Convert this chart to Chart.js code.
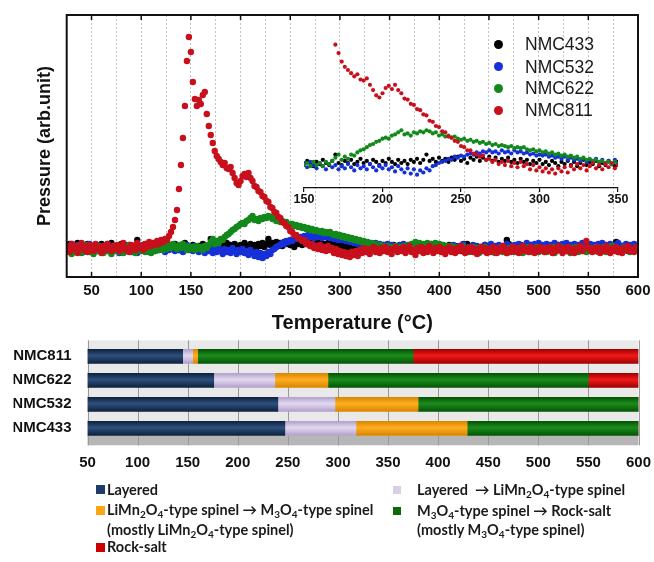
<!DOCTYPE html>
<html>
<head>
<meta charset="utf-8">
<script src="https://cdn.jsdelivr.net/npm/chart.js@4.4.0/dist/chart.umd.min.js"></script>
<style>
body { margin: 0; background: #fff; }
#page { position: relative; width: 654px; height: 562px; overflow: hidden; font-family: 'Liberation Sans', Arial, sans-serif; }
#page canvas { position: absolute; }
#insetBox { position: absolute; left: 290px; top: 30px; width: 343px; height: 186px; overflow: hidden; }
.key { position: absolute; left: 525px; font-size: 17.5px; color: #1a1a1a; line-height: 22px; white-space: nowrap; }
.key i { position: absolute; left: -31px; top: 6.5px; width: 9px; height: 9px; border-radius: 50%; }
.ph { position: absolute; font-family: Lato, sans-serif; font-weight: 700; font-size: 14.5px; color: #1a1a1a; line-height: 19px; white-space: nowrap; }
.ph sub { font-size: 10px; line-height: 0; vertical-align: -3px; }
.sq { position: absolute; }
</style>
</head>
<body>
<div id="page">
  <canvas id="main" width="654" height="340" style="left:0;top:0"></canvas>
  <div id="insetBox"><canvas id="inset" width="360" height="186" style="left:0;top:0"></canvas></div>
  <div id="keys"></div>
  <canvas id="phases" width="654" height="150" style="left:0;top:330px"></canvas>

  <div class="sq" style="left:96px;top:485px;width:9px;height:9px;background:#1f3d66"></div>
  <div class="ph" style="left:107px;top:480px">Layered</div>
  <div class="sq" style="left:96px;top:506px;width:9px;height:9px;background:#ffa514"></div>
  <div class="ph" style="left:107px;top:500px">LiMn<sub>2</sub>O<sub>4</sub>-type spinel &#8594; M<sub>3</sub>O<sub>4</sub>-type spinel</div>
  <div class="ph" style="left:107px;top:520px">(mostly LiMn<sub>2</sub>O<sub>4</sub>-type spinel)</div>
  <div class="sq" style="left:96px;top:543px;width:9px;height:9px;background:#cc0000"></div>
  <div class="ph" style="left:107px;top:537px">Rock-salt</div>

  <div class="sq" style="left:393px;top:486px;width:8px;height:8px;background:#d8cfe6"></div>
  <div class="ph" style="left:417px;top:480px">Layered &nbsp;&#8594; LiMn<sub>2</sub>O<sub>4</sub>-type spinel</div>
  <div class="sq" style="left:393px;top:507px;width:8px;height:8px;background:#0a6a0a"></div>
  <div class="ph" style="left:417px;top:501px">M<sub>3</sub>O<sub>4</sub>-type spinel &#8594; Rock-salt</div>
  <div class="ph" style="left:417px;top:520px">(mostly M<sub>3</sub>O<sub>4</sub>-type spinel)</div>
</div>

<script>
// 温度（℃）
const temps = [
  26,28,30,32,34,36,38,40,42,44,46,48,50,52,54,56,58,60,62,64,66,68,70,72,
  74,76,78,80,82,84,86,88,90,92,94,96,98,100,102,104,106,108,110,112,114,116,118,120,
  122,124,126,128,130,132,134,136,138,140,142,144,146,148,150,152,154,156,158,160,162,164,166,168,
  170,172,174,176,178,180,182,184,186,188,190,192,194,196,198,200,202,204,206,208,210,212,214,216,
  218,220,222,224,226,228,230,232,234,236,238,240,242,244,246,248,250,252,254,256,258,260,262,264,
  266,268,270,272,274,276,278,280,282,284,286,288,290,292,294,296,298,300,302,304,306,308,310,312,
  314,316,318,320,322,324,326,328,330,332,334,336,338,340,342,344,346,348,350,352,354,356,358,360,
  362,364,366,368,370,372,374,376,378,380,382,384,386,388,390,392,394,396,398,400,402,404,406,408,
  410,412,414,416,418,420,422,424,426,428,430,432,434,436,438,440,442,444,446,448,450,452,454,456,
  458,460,462,464,466,468,470,472,474,476,478,480,482,484,486,488,490,492,494,496,498,500,502,504,
  506,508,510,512,514,516,518,520,522,524,526,528,530,532,534,536,538,540,542,544,546,548,550,552,
  554,556,558,560,562,564,566,568,570,572,574,576,578,580,582,584,586,588,590,592,594,596,598,600
];

// 圧力（任意単位）
const nmc433 = [
  29,33,27,31,28,34,30,26,31,29,33,27,30,28,32,26,30,33,28,31,27,30,34,29,
  27,31,29,33,28,30,26,32,29,27,31,37,30,28,32,29,27,31,28,33,29,27,31,28,
  30,27,32,29,31,28,33,29,27,31,30,34,29,31,28,32,30,27,31,29,33,30,28,32,
  38,30,28,32,30,33,29,31,34,30,32,29,33,31,28,32,30,34,31,29,33,30,32,29,
  33,31,34,30,33,38,32,34,31,35,32,34,31,35,33,36,32,34,30,35,33,36,32,35,
  33,36,32,35,31,34,32,35,31,33,30,34,31,33,29,32,30,33,29,31,28,32,30,27,
  31,29,32,28,31,27,30,33,28,31,29,32,27,30,28,32,29,27,31,28,32,29,26,30,
  28,32,29,31,27,30,33,28,31,29,26,30,28,32,29,27,31,28,33,29,31,27,30,28,
  32,29,27,31,28,30,26,31,29,33,28,30,27,31,29,26,30,28,32,29,27,31,28,30,
  27,31,29,26,30,37,33,28,31,27,30,28,32,29,26,30,28,32,27,30,29,26,31,28,
  30,27,31,28,26,30,28,32,29,27,31,28,30,26,29,31,27,30,28,32,29,27,30,28,
  31,27,30,28,32,29,26,30,28,31,27,30,35,29,27,31,28,30,26,29,31,28,32,29
];
const nmc532 = [
  31,27,33,29,26,32,28,30,25,31,28,33,27,30,26,32,29,25,31,28,33,27,30,26,
  31,28,24,30,27,32,26,29,25,31,28,24,30,27,32,26,29,25,31,28,26,30,27,31,
  28,25,30,27,32,28,26,31,27,30,25,29,32,27,30,26,31,28,25,30,27,24,29,26,
  28,24,27,25,29,26,23,28,25,27,24,29,26,23,27,25,28,24,26,22,27,24,21,25,
  20,24,19,23,21,25,23,27,28,30,31,32,34,33,36,35,37,36,38,39,38,40,39,41,
  40,42,40,41,39,42,40,41,39,42,40,41,39,40,38,39,37,38,37,38,36,37,35,36,
  34,36,33,35,33,34,32,34,31,33,32,34,31,33,30,32,29,33,30,32,28,31,29,32,
  29,33,30,27,32,29,33,28,31,27,32,29,26,31,28,33,29,27,31,28,32,27,30,28,
  31,27,32,29,26,31,28,33,29,26,30,27,32,28,31,26,30,28,32,27,30,33,28,31,
  29,32,27,31,28,33,29,31,27,32,30,33,28,31,29,34,30,32,28,33,30,34,29,32,
  30,33,29,32,28,34,30,32,29,33,30,34,29,32,30,33,28,32,30,34,29,31,28,33,
  30,32,29,33,30,34,29,32,30,33,28,32,30,34,29,31,28,33,30,32,29,33,30,32
];
const nmc622 = [
  26,30,23,28,25,31,27,24,29,26,32,25,28,23,29,26,31,27,24,30,26,28,23,29,
  26,31,25,28,24,30,27,32,26,29,24,28,31,26,29,25,30,27,24,29,26,31,27,30,
  27,31,28,32,29,33,30,28,32,29,33,30,27,31,28,30,27,31,28,30,27,31,29,32,
  35,38,33,36,34,38,37,40,42,43,45,47,48,50,51,53,54,53,56,57,59,61,57,58,
  56,59,58,60,59,61,60,58,59,56,57,55,56,54,55,53,52,53,51,52,50,51,49,50,
  48,49,47,48,46,47,46,45,46,44,45,44,45,43,42,43,41,42,40,41,39,40,38,39,
  37,38,36,37,35,36,34,35,33,34,32,33,31,32,30,31,29,31,28,30,27,31,28,30,
  28,31,29,32,30,33,31,35,32,34,31,33,30,34,32,33,30,34,31,33,30,32,29,31,
  28,31,27,30,26,29,27,31,26,29,25,28,30,26,29,24,28,26,30,25,28,26,29,24,
  28,26,30,25,28,24,29,26,30,25,28,26,29,24,28,26,30,25,28,27,30,25,28,26,
  29,25,28,26,30,24,28,27,30,25,29,26,28,24,29,27,30,25,28,26,29,25,28,26,
  29,26,30,25,28,27,30,25,28,26,31,27,29,25,28,26,30,27,29,25,28,26,30,27
];
const nmc811 = [
  30,25,33,28,31,24,29,34,27,30,25,32,29,26,33,28,30,24,31,27,33,29,26,31,
  28,32,26,30,34,27,29,25,32,30,27,34,29,31,27,33,30,35,31,34,32,36,33,37,
  35,38,37,41,45,50,57,67,88,112,139,171,216,240,225,195,178,171,177,173,182,185,163,151,
  142,134,126,121,118,115,112,114,109,108,110,104,99,94,92,96,101,103,100,104,99,96,91,90,
  86,85,81,80,76,75,70,69,65,64,60,59,55,54,51,50,46,45,42,42,39,38,36,37,
  33,34,31,33,29,31,28,32,27,30,26,31,27,29,24,28,23,26,22,25,21,24,20,25,
  22,26,21,27,24,29,25,28,23,27,30,25,28,24,29,26,30,25,28,23,27,30,25,28,
  26,30,24,28,31,25,27,22,29,26,30,24,28,25,31,27,24,29,26,30,25,28,23,27,
  30,25,28,24,29,26,31,27,24,29,26,30,25,28,23,27,30,26,29,24,28,25,30,27,
  24,29,26,31,27,24,28,25,30,26,29,24,27,31,26,28,25,30,27,24,29,26,30,27,
  25,29,26,30,24,28,26,31,27,24,29,26,30,25,28,24,29,27,31,26,29,36,30,27,
  25,29,26,30,24,28,26,31,27,24,29,26,30,25,28,24,29,27,31,26,28,25,30,27
];

const seriesNames = ['NMC433', 'NMC532', 'NMC622', 'NMC811'];
const seriesColors = ['#000000', '#1530d8', '#12891a', '#c8101c'];
const mainTicks = [50, 100, 150, 200, 250, 300, 350, 400, 450, 500, 550, 600];
const insetTicks = [150, 200, 250, 300, 350];

// 相変化（℃）
const samples = ['NMC811', 'NMC622', 'NMC532', 'NMC433'];
const layeredEnd = [145, 176, 240, 247];
const toSpinelEnd = [155, 237, 297, 318];
const spinelEnd = [160, 290, 380, 429];
const rockStart = [375, 550, 600, 600];
const phaseMax = 600;
const phaseMin = 50;

Chart.defaults.font.family = "'Liberation Sans', Arial, sans-serif";

// 凡例
const keys = document.getElementById('keys');
const keyCenters = [44.3, 66.7, 88.3, 110];
seriesNames.forEach((name, k) => {
    const d = document.createElement('div');
    d.className = 'key';
    d.style.top = (keyCenters[k] - 11) + 'px';
    d.innerHTML = `<i style="background:${seriesColors[k]}"></i>${name}`;
    keys.appendChild(d);
});

function scatterSets(radius) {
    const values = [nmc433, nmc532, nmc622, nmc811];
    return values.map((vals, k) => ({
        label: seriesNames[k],
        data: temps.map((t, i) => ({ x: t, y: vals[i] })),
        backgroundColor: seriesColors[k],
        borderWidth: 0,
        pointRadius: radius,
        order: 4 - k
    }));
}

// 枠と内向きの目盛り
const frame = {
    id: 'frame',
    afterDraw(chart) {
        const { ctx, chartArea: a, scales: { x } } = chart;
        ctx.save();
        ctx.strokeStyle = '#111';
        ctx.lineWidth = 1.5;
        mainTicks.forEach(t => {
            const px = x.getPixelForValue(t);
            ctx.beginPath();
            ctx.moveTo(px, a.bottom); ctx.lineTo(px, a.bottom - 5);
            ctx.moveTo(px, a.top); ctx.lineTo(px, a.top + 5);
            ctx.stroke();
        });
        ctx.lineWidth = 2;
        ctx.strokeRect(a.left, a.top, a.right - a.left, a.bottom - a.top);
        ctx.restore();
    }
};

new Chart(document.getElementById('main'), {
    type: 'scatter',
    data: { datasets: scatterSets(3.2) },
    options: {
        responsive: false,
        animation: false,
        events: [],
        layout: { padding: { left: 20, right: 16, top: 15, bottom: 0 } },
        plugins: { legend: { display: false }, tooltip: { enabled: false } },
        scales: {
            x: {
                type: 'linear', min: 25, max: 600,
                afterFit: s => { s.height = 63; },
                ticks: {
                    stepSize: 25, autoSkip: false, maxRotation: 0, padding: 0,
                    font: { size: 15, weight: 'bold' }, color: '#111',
                    callback: v => mainTicks.includes(v) ? String(v) : ''
                },
                grid: { color: '#c2c2c2', lineWidth: 1, drawTicks: true, tickLength: 5, tickColor: 'rgba(0,0,0,0)' },
                border: { display: false, dash: [2, 2] },
                title: {
                    display: true, text: 'Temperature (°C)', color: '#111',
                    font: { size: 20, weight: 'bold' }, padding: { top: 0, bottom: 5 }
                }
            },
            y: {
                min: 0, max: 262,
                afterFit: s => { s.width = 46.7; },
                ticks: { display: false },
                grid: { display: false, drawTicks: false },
                border: { display: false },
                title: {
                    display: true, text: 'Pressure (arb.unit)', color: '#111',
                    font: { size: 18, weight: 'bold' }, padding: { top: 14, bottom: 0 }
                }
            }
        }
    },
    plugins: [frame]
});

// 挿入図
new Chart(document.getElementById('inset'), {
    type: 'scatter',
    data: { datasets: scatterSets(2.1) },
    options: {
        responsive: false,
        animation: false,
        events: [],
        layout: { padding: { left: 14, right: 32, top: 10, bottom: 0 } },
        plugins: { legend: { display: false }, tooltip: { enabled: false } },
        scales: {
            x: {
                type: 'linear', min: 150, max: 350,
                afterFit: s => { s.height = 28; },
                ticks: {
                    stepSize: 50, padding: 0, color: '#111',
                    font: { size: 12.5, weight: 'bold' },
                    callback: v => insetTicks.includes(v) ? String(v) : ''
                },
                grid: { drawOnChartArea: false, drawTicks: true, tickLength: 4, color: '#111', lineWidth: 1.2 },
                border: { display: true, color: '#111', width: 1.3 }
            },
            y: { display: false, min: 6.35, max: 146.4 }
        }
    }
});

// 相図の背景
const backdrop = {
    id: 'backdrop',
    beforeDraw(chart) {
        const { ctx, chartArea: a, scales: { x } } = chart;
        ctx.save();
        ctx.fillStyle = '#e9e9e9';
        ctx.fillRect(a.left, a.top - 4, a.right - a.left, (a.bottom - 5) - (a.top - 4));
        ctx.fillStyle = '#b6b6b6';
        ctx.fillRect(a.left, a.bottom - 5, a.right - a.left, 10);
        ctx.strokeStyle = '#9a9a9a';
        ctx.lineWidth = 1;
        x.ticks.forEach(t => {
            const px = Math.round(x.getPixelForValue(t.value)) + 0.5;
            ctx.beginPath();
            ctx.moveTo(px, a.top - 4);
            ctx.lineTo(px, a.bottom + 5);
            ctx.stroke();
        });
        ctx.restore();
    }
};

function shade(dark, light) {
    return (c) => {
        const chart = c.chart;
        const y = chart.scales.y;
        if (!chart.chartArea || !y || c.dataIndex === undefined) return light;
        const mid = y.getPixelForValue(c.dataIndex);
        const g = chart.ctx.createLinearGradient(0, mid - 7, 0, mid + 7);
        g.addColorStop(0, dark);
        g.addColorStop(0.45, light);
        g.addColorStop(1, dark);
        return g;
    };
}

const phaseSets = [
    { label: 'Layered', data: samples.map((_, i) => [phaseMin, layeredEnd[i]]), backgroundColor: shade('#0f223d', '#2f517f') },
    { label: 'Layered → LiMn2O4-type spinel', data: samples.map((_, i) => [layeredEnd[i], toSpinelEnd[i]]), backgroundColor: shade('#b3a2cc', '#e2d9ef') },
    { label: 'LiMn2O4-type spinel → M3O4-type spinel', data: samples.map((_, i) => [toSpinelEnd[i], spinelEnd[i]]), backgroundColor: shade('#d88700', '#ffae22') },
    { label: 'M3O4-type spinel → Rock-salt', data: samples.map((_, i) => [spinelEnd[i], rockStart[i]]), backgroundColor: shade('#055505', '#1b8c1b') },
    { label: 'Rock-salt', data: samples.map((_, i) => [rockStart[i], phaseMax]), backgroundColor: shade('#a00000', '#f21a1a') }
];

new Chart(document.getElementById('phases'), {
    type: 'bar',
    data: { labels: samples, datasets: phaseSets },
    options: {
        indexAxis: 'y',
        responsive: false,
        animation: false,
        events: [],
        layout: { padding: { left: 13.5, right: 15.5, top: 14.3, bottom: 7.7 } },
        plugins: { legend: { display: false }, tooltip: { enabled: false } },
        datasets: { bar: { grouped: false, barThickness: 14, borderWidth: 0 } },
        scales: {
            x: {
                type: 'linear', min: phaseMin, max: phaseMax,
                afterFit: s => { s.height = 32; },
                ticks: { stepSize: 50, padding: 0, color: '#111', font: { size: 15, weight: 'bold' } },
                grid: { display: false, drawTicks: true, tickLength: 14 },
                border: { display: false }
            },
            y: {
                afterFit: s => { s.width = 74; },
                ticks: { padding: 0, color: '#111', font: { size: 15, weight: 'bold' } },
                grid: { display: false, drawTicks: true, tickLength: 16 },
                border: { display: false }
            }
        }
    },
    plugins: [backdrop]
});
</script>
</body>
</html>
